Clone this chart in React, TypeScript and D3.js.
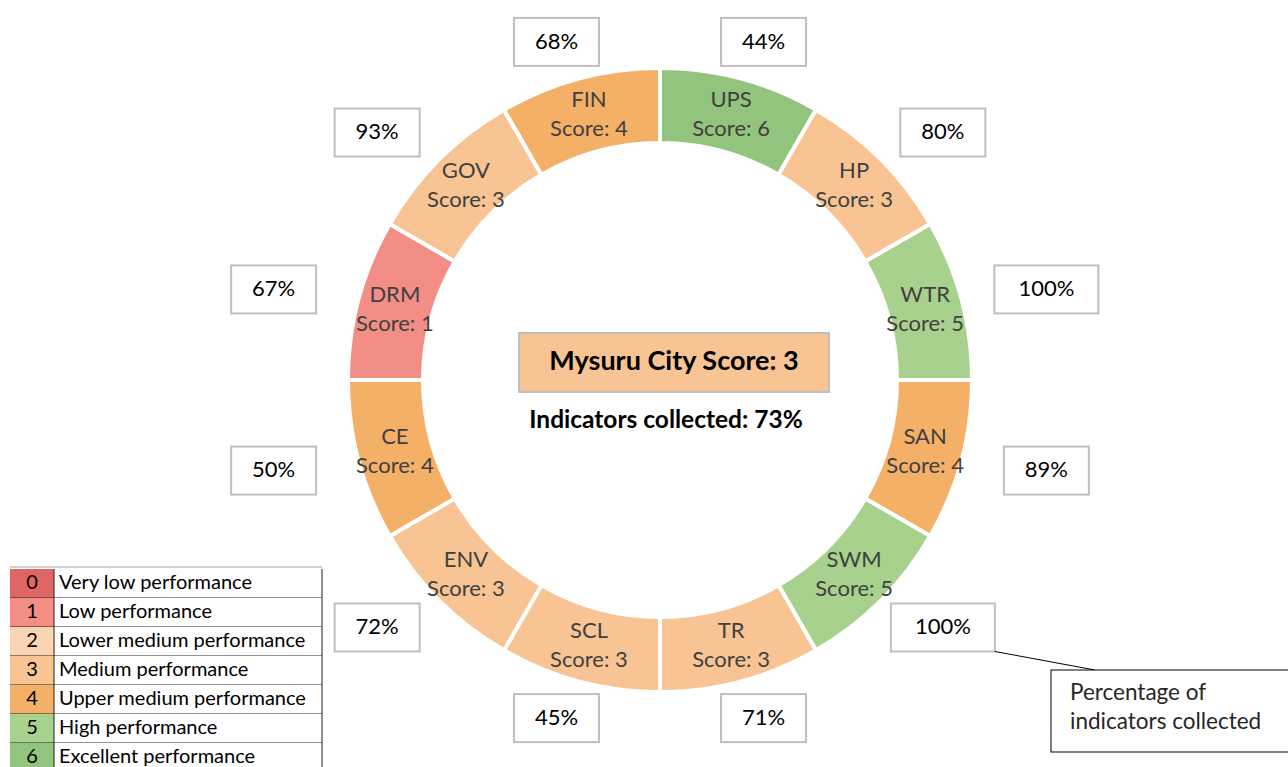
import React from 'react';
import * as d3 from 'd3';

const categories = ['UPS', 'HP', 'WTR', 'SAN', 'SWM', 'TR', 'SCL', 'ENV', 'CE', 'DRM', 'GOV', 'FIN'];
const scores = [6, 3, 5, 4, 5, 3, 3, 3, 4, 1, 3, 4];
const percentCollected = [44, 80, 100, 89, 100, 71, 45, 72, 50, 67, 93, 68];
const levels = [0, 1, 2, 3, 4, 5, 6];
const levelLabels = [
  'Very low performance',
  'Low performance',
  'Lower medium performance',
  'Medium performance',
  'Upper medium performance',
  'High performance',
  'Excellent performance',
];
const levelColors = ['#E06666', '#F28E86', '#FBD5B3', '#F8C493', '#F5B068', '#A9D18E', '#93C47D'];
const cityName = 'Mysuru';
const cityScore = 3;
const cityCollected = 73;

const W = 1288;
const H = 767;
const FONT = 'Lato, "Open Sans", sans-serif';

export default function App() {
  const cx = 660;
  const cy = 380;
  const rOuter = 312;
  const rInner = 237;
  const color = d3.scaleOrdinal<number, string>().domain(levels).range(levelColors);

  const pie = d3
    .pie<number>()
    .value(() => 1)
    .sort(null)
    .startAngle(0)
    .endAngle(2 * Math.PI);
  const arcs = pie(scores);
  const arc = d3.arc<d3.PieArcDatum<number>>().innerRadius(rInner).outerRadius(rOuter);

  const labelRx = 400;
  const labelRy = 350;

  const legendX = 10;
  const legendY = 569;
  const rowH = 29;
  const col1 = 44;
  const legendW = 312;

  const boxes = arcs.map((a, i) => {
    const mid = (a.startAngle + a.endAngle) / 2;
    const bx = labelRx * Math.sin(mid);
    const by = -labelRy * Math.cos(mid);
    const bw = percentCollected[i] >= 100 ? 104 : 85;
    const bh = 48;
    return { bx, by, bw, bh, label: `${percentCollected[i]}%` };
  });
  // leader line starts at the bottom-right corner of the SWM box
  const swm = boxes[categories.indexOf('SWM')];
  const leadX = cx + swm.bx + swm.bw / 2;
  const leadY = cy + swm.by + swm.bh / 2;

  return (
    <svg
      width={W}
      height={H}
      style={{ position: 'absolute', left: 0, top: 0, background: '#fff' }}
      fontFamily={FONT}
    >
      <g transform={`translate(${cx},${cy})`}>
        {arcs.map((a, i) => {
          const [tx, ty] = arc.centroid(a);
          return (
            <g key={categories[i]}>
              <path d={arc(a) || ''} fill={color(a.data)} stroke="#fff" strokeWidth={4} />
              <text x={tx} y={ty - 13} textAnchor="middle" dominantBaseline="middle" fontSize={22} fill="#404040">
                {categories[i]}
              </text>
              <text x={tx} y={ty + 16} textAnchor="middle" dominantBaseline="middle" fontSize={22} fill="#404040">
                {`Score: ${a.data}`}
              </text>
            </g>
          );
        })}
        {boxes.map((b, i) => (
          <g key={'p' + categories[i]}>
            <rect x={b.bx - b.bw / 2} y={b.by - b.bh / 2} width={b.bw} height={b.bh} fill="#fff" stroke="#BFBFBF" strokeWidth={2} />
            <text x={b.bx} y={b.by + 1} textAnchor="middle" dominantBaseline="middle" fontSize={22} fill="#000">
              {b.label}
            </text>
          </g>
        ))}
        <rect x={-141} y={-47} width={310} height={59} fill={color(cityScore)} stroke="#BFBFBF" strokeWidth={2} />
        <text x={14} y={-17} textAnchor="middle" dominantBaseline="middle" fontSize={27} fontWeight="bold" fill="#000">
          {`${cityName} City Score: ${cityScore}`}
        </text>
        <text x={6} y={42} textAnchor="middle" dominantBaseline="middle" fontSize={24.5} fontWeight="bold" fill="#000">
          {`Indicators collected: ${cityCollected}%`}
        </text>
      </g>

      {/* Legend table */}
      <g>
        <line x1={legendX} x2={legendX + legendW} y1={legendY - 2} y2={legendY - 2} stroke="#D0D0D0" strokeWidth={2} />
        {levels.map((lv, i) => {
          const y = legendY + i * rowH;
          return (
            <g key={'lg' + lv}>
              <rect x={legendX} y={y} width={col1} height={rowH} fill={color(lv)} />
              <rect x={legendX + col1} y={y} width={legendW - col1} height={rowH} fill="#fff" />
              <text x={legendX + col1 / 2} y={y + rowH / 2} textAnchor="middle" dominantBaseline="middle" fontSize={20} fill="#000">
                {lv}
              </text>
              <text x={legendX + col1 + 5} y={y + rowH / 2} dominantBaseline="middle" fontSize={20} fill="#000">
                {levelLabels[i]}
              </text>
              <line x1={legendX} x2={legendX + legendW} y1={y + rowH} y2={y + rowH} stroke="#202020" strokeWidth={1} />
            </g>
          );
        })}
        <line x1={legendX + col1} x2={legendX + col1} y1={legendY} y2={H} stroke="#202020" strokeWidth={1} />
        <line x1={legendX + legendW} x2={legendX + legendW} y1={legendY} y2={H} stroke="#202020" strokeWidth={1} />
      </g>

      {/* Annotation */}
      <line x1={leadX} y1={leadY} x2={1095} y2={670} stroke="#000" strokeWidth={1} />
      <rect x={1051} y={670} width={250} height={82} fill="#fff" stroke="#000" strokeWidth={1} />
      <text x={1070} y={694} dominantBaseline="middle" fontSize={22.5} fill="#262626">
        Percentage of
      </text>
      <text x={1070} y={723} dominantBaseline="middle" fontSize={22.5} fill="#262626">
        indicators collected
      </text>
    </svg>
  );
}
